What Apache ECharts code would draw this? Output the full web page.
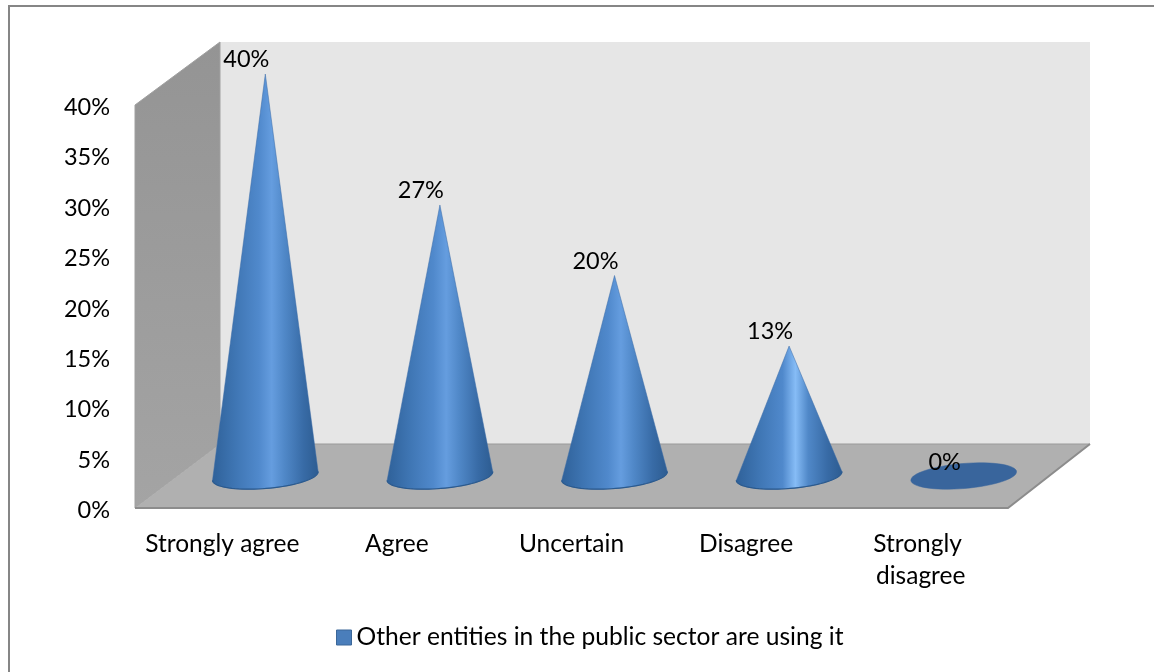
<!DOCTYPE html>
<html>
<head>
<meta charset="utf-8">
<style>html,body{margin:0;padding:0;background:#fff}#c{width:1154px;height:672px}</style>
<script src="https://cdn.jsdelivr.net/npm/echarts@6/dist/echarts.min.js"></script>
</head>
<body>
<div id="c"></div>
<script>
const categories = ['Strongly agree', 'Agree', 'Uncertain', 'Disagree', 'Strongly disagree'];
const shareValues = [40, 27, 20, 13, 0];
const seriesName = 'Other entities in the public sector are using it';
const FONT = 'Lato, "Open Sans", sans-serif';

const chart = echarts.init(document.getElementById('c'));

function poly(points, fill, stroke, lw) {
  return { type: 'polygon', shape: { points }, style: { fill, stroke: stroke || fill, lineWidth: lw === undefined ? 1 : lw } };
}

function renderWalls(params, api) {
  const cs = params.coordSys;
  const L = cs.x, R = cs.x + cs.width, T = cs.y, B = cs.y + cs.height;
  const dxL = 85, dxR = 82, dy = -64;
  const bl = [L + dxL, B + dy], br = [R + dxR, B + dy];
  const tl = [L + dxL, T + dy + 1], tr = [R + dxR, T + dy + 1];
  return {
    type: 'group',
    children: [
      poly([tl, tr, br, bl], '#e6e6e6', '#e6e6e6', 0),
      poly([[L, T], tl, bl, [L, B]], { type: 'linear', x: 0, y: 0, x2: 0, y2: 1, colorStops: [{ offset: 0, color: '#949494' }, { offset: 1, color: '#a4a4a4' }] }, '#a0a0a0', 1),
      poly([[L, B], bl, br, [R, B]], '#b0b0b0', '#b0b0b0', 0),
      { type: 'polyline', shape: { points: [bl, br] }, style: { fill: 'none', stroke: '#9a9a9a', lineWidth: 1 } },
      { type: 'polyline', shape: { points: [[L, B], [R, B], br] }, style: { fill: 'none', stroke: '#8c8c8c', lineWidth: 2 } }
    ]
  };
}

function renderCone(params, api) {
  const idx = api.value(0), val = api.value(1);
  const base = api.coord([idx, 0]);
  const top = api.coord([idx, val]);
  const dx = 43, dy = -32;
  const cx = base[0] + dx, cy = base[1] + dy;
  const rx = 53, ry = 12.5, tilt = -4.8 * Math.PI / 180;
  const ell = t => [
    cx + rx * Math.cos(t) * Math.cos(tilt) - ry * Math.sin(t) * Math.sin(tilt),
    cy + rx * Math.cos(t) * Math.sin(tilt) + ry * Math.sin(t) * Math.cos(tilt)
  ];
  const children = [];
  if (val > 0) {
    const pts = [[top[0] + dx, top[1] + dy + 1]];
    for (let i = 0; i <= 40; i++) pts.push(ell(Math.PI * i / 40));
    const hi = val < 15 ? '#86bcf6' : '#659ddf';
    children.push(poly(pts, {
      type: 'linear', x: 0, y: 0, x2: 1, y2: 0,
      colorStops: [
        { offset: 0, color: '#2f6199' }, { offset: 0.22, color: '#3f76b4' },
        { offset: 0.44, color: '#5089cc' }, { offset: 0.56, color: hi },
        { offset: 0.68, color: '#5088c8' }, { offset: 0.86, color: '#386ba6' },
        { offset: 1, color: '#2d5c91' }
      ]
    }, '#3a6ba6', 0.5));
    const rim = [];
    for (let i = 0; i <= 40; i++) rim.push(ell(Math.PI * i / 40));
    children.push({ type: 'polyline', shape: { points: rim }, style: { fill: 'none', stroke: '#2b5a8e', lineWidth: 1.2 } });
  } else {
    const pts = [];
    for (let i = 0; i < 60; i++) pts.push(ell(2 * Math.PI * i / 60));
    children.push(poly(pts, '#39659c', '#39659c', 0.5));
  }
  children.push({
    type: 'text',
    style: {
      x: top[0] + dx - 19, y: top[1] + dy - 13.5,
      text: val + '%', fill: '#000', font: '23.5px ' + FONT,
      textAlign: 'center', textVerticalAlign: 'middle'
    }
  });
  return { type: 'group', children };
}

chart.setOption({
  animation: false,
  backgroundColor: '#ffffff',
  textStyle: { fontFamily: FONT },
  grid: { left: 135, right: 146, top: 105, bottom: 164 },
  graphic: [
    { type: 'polyline', silent: true, shape: { points: [[9, 672], [9, 6], [1154, 6]] }, style: { fill: 'none', stroke: '#868686', lineWidth: 2 } }
  ],
  legend: {
    data: [seriesName], left: 331, top: 620, itemWidth: 15, itemHeight: 15, itemGap: 6,
    icon: 'rect',
    itemStyle: { color: '#4a7ebb', borderColor: '#3b6799', borderWidth: 1 },
    textStyle: { color: '#000', fontSize: 24.6, fontFamily: FONT, padding: 0 }
  },
  xAxis: {
    type: 'category', data: categories,
    axisLine: { show: false }, axisTick: { show: false }, splitLine: { show: false },
    axisLabel: {
      color: '#000', fontSize: 24.5, fontFamily: FONT, margin: 20, lineHeight: 32,
      interval: 0, width: 172, overflow: 'break'
    }
  },
  yAxis: {
    type: 'value', min: 0, max: 40, interval: 5,
    axisLine: { show: false }, axisTick: { show: false }, splitLine: { show: false },
    axisLabel: { color: '#000', fontSize: 23.5, fontFamily: FONT, margin: 25, verticalAlign: 'top', lineHeight: 5, formatter: '{value}%' }
  },
  series: [
    { type: 'custom', name: 'Walls', renderItem: renderWalls, data: [[0, 0]], silent: true, z: 1, clip: false, encode: { x: 0, y: 1 } },
    {
      type: 'custom', name: seriesName, renderItem: renderCone, z: 2, clip: false,
      itemStyle: { color: '#4a7ebb' },
      encode: { x: 0, y: 1 },
      data: shareValues.map((v, i) => [i, v])
    }
  ]
});
</script>
</body>
</html>
